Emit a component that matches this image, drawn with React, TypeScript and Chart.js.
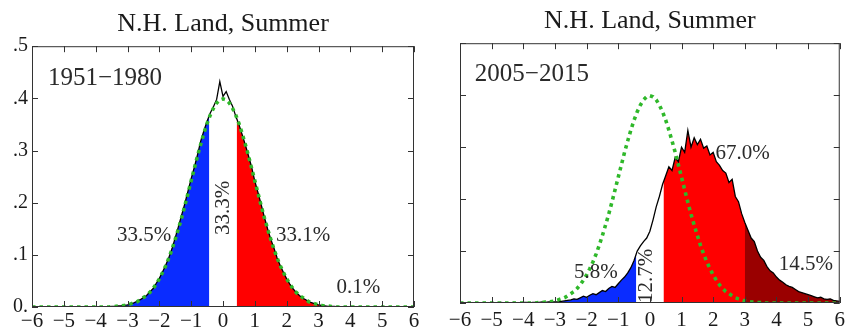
import React, { useEffect, useRef } from 'react';
import { Chart, registerables } from 'chart.js';

Chart.register(...registerables);

// ---- data -------------------------------------------------------------
// densities on a grid from -6 to 6, step 0.1 (121 values)
const X_START = -6;
const X_STEP = 0.1;

const NORMAL_REF = [
  0, 0, 0, 0, 0, 0, 0, 0, 0, 0, 0, 0, 0, 0, 0, 0, 0, 0, 0, 0, 0, 0, 0, 0, 0,
  0.001, 0.001, 0.002, 0.002, 0.003, 0.004, 0.006, 0.008, 0.010, 0.014,
  0.018, 0.022, 0.028, 0.035, 0.044, 0.054, 0.066, 0.079, 0.094, 0.111,
  0.130, 0.150, 0.171, 0.194, 0.218, 0.242, 0.266, 0.290, 0.312, 0.333,
  0.352, 0.368, 0.381, 0.391, 0.397,
  0.399,
  0.397, 0.391, 0.381, 0.368, 0.352, 0.333, 0.312, 0.290, 0.266, 0.242,
  0.218, 0.194, 0.171, 0.150, 0.130, 0.111, 0.094, 0.079, 0.066, 0.054,
  0.044, 0.035, 0.028, 0.022, 0.018, 0.014, 0.010, 0.008, 0.006, 0.004,
  0.003, 0.002, 0.002, 0.001, 0.001,
  0, 0, 0, 0, 0, 0, 0, 0, 0, 0, 0, 0, 0, 0, 0, 0, 0, 0, 0, 0, 0, 0, 0, 0, 0,
];

const HIST_1951_1980 = [
  0, 0, 0, 0, 0, 0, 0, 0, 0, 0, 0, 0, 0, 0, 0, 0, 0, 0, 0, 0, 0, 0, 0, 0, 0,
  0.001, 0.001, 0.002, 0.002, 0.003, 0.004, 0.006, 0.008, 0.011, 0.014,
  0.018, 0.022, 0.029, 0.035, 0.045, 0.055, 0.067, 0.080, 0.095, 0.112,
  0.133, 0.154, 0.176, 0.198, 0.222, 0.246, 0.268, 0.292, 0.318, 0.338,
  0.356, 0.372, 0.384, 0.398, 0.432,
  0.404,
  0.413, 0.398, 0.385, 0.366, 0.350, 0.331, 0.311, 0.290, 0.268, 0.241,
  0.219, 0.196, 0.172, 0.150, 0.130, 0.113, 0.094, 0.079, 0.066, 0.054,
  0.044, 0.035, 0.028, 0.022, 0.017, 0.014, 0.010, 0.008, 0.006, 0.004,
  0.003, 0.002, 0.001, 0.001, 0.001,
  0, 0, 0, 0, 0, 0, 0, 0, 0, 0, 0, 0, 0, 0, 0, 0, 0, 0, 0, 0, 0, 0, 0, 0, 0,
];

const HIST_2005_2015 = [
  0, 0, 0, 0, 0, 0, 0, 0, 0, 0, 0, 0, 0, 0.001, 0, 0, 0, 0.001, 0, 0,
  0.001, 0.001, 0.000, 0.001, 0.001, 0.001, 0.002, 0.001, 0.002, 0.002,
  0.002, 0.002, 0.003, 0.004, 0.005, 0.006, 0.008, 0.007, 0.010, 0.013,
  0.011, 0.015, 0.018, 0.016, 0.020, 0.024, 0.022, 0.028, 0.032, 0.030,
  0.037, 0.044, 0.050, 0.058, 0.068, 0.082, 0.100, 0.110, 0.118, 0.125,
  0.138,
  0.160, 0.185, 0.205, 0.228, 0.245, 0.262, 0.255, 0.280, 0.272, 0.300,
  0.290, 0.332, 0.300, 0.318, 0.305, 0.315, 0.298, 0.302, 0.285, 0.290,
  0.272, 0.265, 0.255, 0.250, 0.232, 0.238, 0.205, 0.195, 0.172, 0.155,
  0.140, 0.125, 0.118, 0.100, 0.088, 0.082, 0.070, 0.062, 0.058, 0.050,
  0.044, 0.040, 0.035, 0.032, 0.030, 0.026, 0.022, 0.020, 0.018, 0.016,
  0.014, 0.012, 0.010, 0.011, 0.008, 0.007, 0.008, 0.005, 0.004, 0.003,
];

const X_TICK_LABELS = ['−6', '−5', '−4', '−3', '−2', '−1', '0', '1', '2', '3', '4', '5', '6'];
const Y_TICK_LABELS = ['0.', '.1', '.2', '.3', '.4', '.5'];
const TITLE = 'N.H. Land, Summer';
const PERIODS = ['1951−1980', '2005−2015'];
// category thresholds (in standard deviations)
const THRESHOLDS = [-0.43, 0.43, 3];
const PCT_1951_1980 = ['33.5%', '33.3%', '33.1%', '0.1%'];
const PCT_2005_2015 = ['5.8%', '12.7%', '67.0%', '14.5%'];

// ---- styles / positions ----------------------------------------------
const SERIF = '"Liberation Serif", "Times New Roman", serif';
const BLUE = '#0a2cff';
const RED = '#ff0000';
const DARK_RED = '#9a0000';
const GREEN = '#2fb82a';
const TEXT = '#2a2a2a';

type Label = { text: string; x: number; y: number; rotate?: boolean; align?: CanvasTextAlign; size?: number };

function xOf(i: number) {
  return Math.round((X_START + i * X_STEP) * 100) / 100;
}

function valueAt(values: number[], x: number) {
  const t = (x - X_START) / X_STEP;
  const i = Math.floor(t);
  if (i < 0) return values[0];
  if (i >= values.length - 1) return values[values.length - 1];
  const f = t - i;
  return values[i] * (1 - f) + values[i + 1] * f;
}

function regionPoints(values: number[], a: number, b: number) {
  const pts: { x: number; y: number }[] = [{ x: a, y: valueAt(values, a) }];
  values.forEach((v, i) => {
    const x = xOf(i);
    if (x > a + 1e-9 && x < b - 1e-9) pts.push({ x, y: v });
  });
  pts.push({ x: b, y: valueAt(values, b) });
  return pts;
}

function toPoints(values: number[]) {
  return values.map((v, i) => ({ x: xOf(i), y: v }));
}

type PanelProps = {
  hist: number[];
  labels: Label[];
  showY: boolean;
  yAxisWidth: number;
  xAxisHeight: number;
  xLabelPad: number;
  padRight: number;
  titleTop: number;
  titleBottom: number;
};

function Panel(p: PanelProps) {
  const ref = useRef<HTMLCanvasElement | null>(null);
  useEffect(() => {
    if (!ref.current) return;
    const lo = X_START;
    const hi = xOf(p.hist.length - 1);
    // red extends a little under the dark-red region so no seam shows
    const regions = [
      { a: lo, b: THRESHOLDS[0], color: BLUE, order: 3 },
      { a: THRESHOLDS[1], b: THRESHOLDS[2] + 0.05, color: RED, order: 5 },
      { a: THRESHOLDS[2], b: hi, color: DARK_RED, order: 4 },
    ];
    const datasets: any[] = regions.map((r) => ({
      data: regionPoints(p.hist, r.a, r.b),
      borderWidth: 0,
      borderColor: 'rgba(0,0,0,0)',
      backgroundColor: r.color,
      fill: 'origin',
      pointRadius: 0,
      tension: 0,
      order: r.order,
    }));
    datasets.push({
      data: toPoints(p.hist),
      borderColor: '#000',
      borderWidth: 1.3,
      pointRadius: 0,
      fill: false,
      tension: 0,
      order: 2,
    });
    datasets.push({
      data: toPoints(NORMAL_REF),
      borderColor: GREEN,
      borderWidth: 3.6,
      borderDash: [3.5, 4],
      pointRadius: 0,
      fill: false,
      tension: 0,
      order: 1,
    });

    const frame = {
      id: 'frame',
      afterDraw(chart: any) {
        const { ctx, chartArea, scales } = chart;
        const { left, right, top, bottom } = chartArea;
        const x = scales.x;
        const y = scales.y;
        ctx.save();
        ctx.strokeStyle = '#333';
        ctx.lineWidth = 1;
        ctx.strokeRect(left + 0.5, top + 0.5, right - left - 1, bottom - top - 1);
        ctx.beginPath();
        x.ticks.forEach((t: any) => {
          const px = Math.round(x.getPixelForValue(t.value)) + 0.5;
          ctx.moveTo(px, bottom);
          ctx.lineTo(px, bottom - 6);
          ctx.moveTo(px, top);
          ctx.lineTo(px, top + 6);
        });
        y.ticks.forEach((t: any) => {
          const py = Math.round(y.getPixelForValue(t.value)) + 0.5;
          ctx.moveTo(left, py);
          ctx.lineTo(left + 6, py);
          ctx.moveTo(right, py);
          ctx.lineTo(right - 6, py);
        });
        ctx.stroke();
        ctx.fillStyle = TEXT;
        ctx.textBaseline = 'middle';
        p.labels.forEach((l) => {
          const px = x.getPixelForValue(l.x);
          const py = y.getPixelForValue(l.y);
          ctx.font = `${l.size ?? 21}px ${SERIF}`;
          ctx.textAlign = l.align ?? 'center';
          if (l.rotate) {
            ctx.save();
            ctx.translate(px, py);
            ctx.rotate(-Math.PI / 2);
            ctx.fillText(l.text, 0, 0);
            ctx.restore();
          } else {
            ctx.fillText(l.text, px, py);
          }
        });
        ctx.restore();
      },
    };

    const chart = new Chart(ref.current, {
      type: 'line',
      data: { datasets },
      options: {
        animation: false,
        responsive: false,
        events: [],
        layout: { padding: { left: 0, right: p.padRight, top: 0, bottom: 0 } },
        plugins: {
          legend: { display: false },
          tooltip: { enabled: false },
          title: {
            display: true,
            text: TITLE,
            fullSize: false,
            color: '#1a1a1a',
            font: { family: SERIF, size: 26, weight: 'normal' },
            padding: { top: p.titleTop, bottom: p.titleBottom },
          },
        },
        scales: {
          x: {
            type: 'linear',
            min: -6,
            max: 6,
            grid: { display: false, drawTicks: false },
            border: { display: false },
            afterFit: (s: any) => {
              s.height = p.xAxisHeight;
            },
            ticks: {
              stepSize: 1,
              padding: p.xLabelPad,
              color: '#1a1a1a',
              font: { family: SERIF, size: 21 },
              maxRotation: 0,
              autoSkip: false,
              callback: (v: any) => X_TICK_LABELS[Math.round(Number(v)) + 6],
            },
          },
          y: {
            type: 'linear',
            min: 0,
            max: 0.5,
            grid: { display: false, drawTicks: false },
            border: { display: false },
            afterFit: (s: any) => {
              s.width = p.yAxisWidth;
            },
            ticks: {
              stepSize: 0.1,
              display: p.showY,
              padding: 4,
              color: '#1a1a1a',
              font: { family: SERIF, size: 20 },
              callback: (v: any) => Y_TICK_LABELS[Math.round(Number(v) * 10)],
            },
          },
        },
      } as any,
      plugins: [frame],
    });
    return () => chart.destroy();
  }, []);
  return <canvas ref={ref} width={425} height={330} style={{ display: 'block' }} />;
}

const LEFT_LABELS: Label[] = [
  { text: PERIODS[0], x: -5.5, y: 0.438, align: 'left', size: 25 },
  { text: PCT_1951_1980[0], x: -2.48, y: 0.138 },
  { text: PCT_1951_1980[1], x: 0, y: 0.19, rotate: true },
  { text: PCT_1951_1980[2], x: 2.52, y: 0.138 },
  { text: PCT_1951_1980[3], x: 4.25, y: 0.037 },
];

const RIGHT_LABELS: Label[] = [
  { text: PERIODS[1], x: -5.53, y: 0.439, align: 'left', size: 25 },
  { text: PCT_2005_2015[0], x: -1.71, y: 0.058 },
  { text: PCT_2005_2015[1], x: -0.1, y: 0.052, rotate: true },
  { text: PCT_2005_2015[2], x: 2.93, y: 0.287 },
  { text: PCT_2005_2015[3], x: 4.93, y: 0.074 },
];

export default function App() {
  return (
    <div style={{ position: 'absolute', left: 0, top: 0, width: 850, height: 330, background: '#fff', display: 'flex' }}>
      <Panel
        hist={HIST_1951_1980}
        labels={LEFT_LABELS}
        showY={true}
        yAxisWidth={32}
        xAxisHeight={23}
        xLabelPad={2}
        padRight={11}
        titleTop={9}
        titleBottom={6}
      />
      <Panel
        hist={HIST_2005_2015}
        labels={RIGHT_LABELS}
        showY={false}
        yAxisWidth={35}
        xAxisHeight={27}
        xLabelPad={5}
        padRight={7}
        titleTop={6}
        titleBottom={6}
      />
    </div>
  );
}
